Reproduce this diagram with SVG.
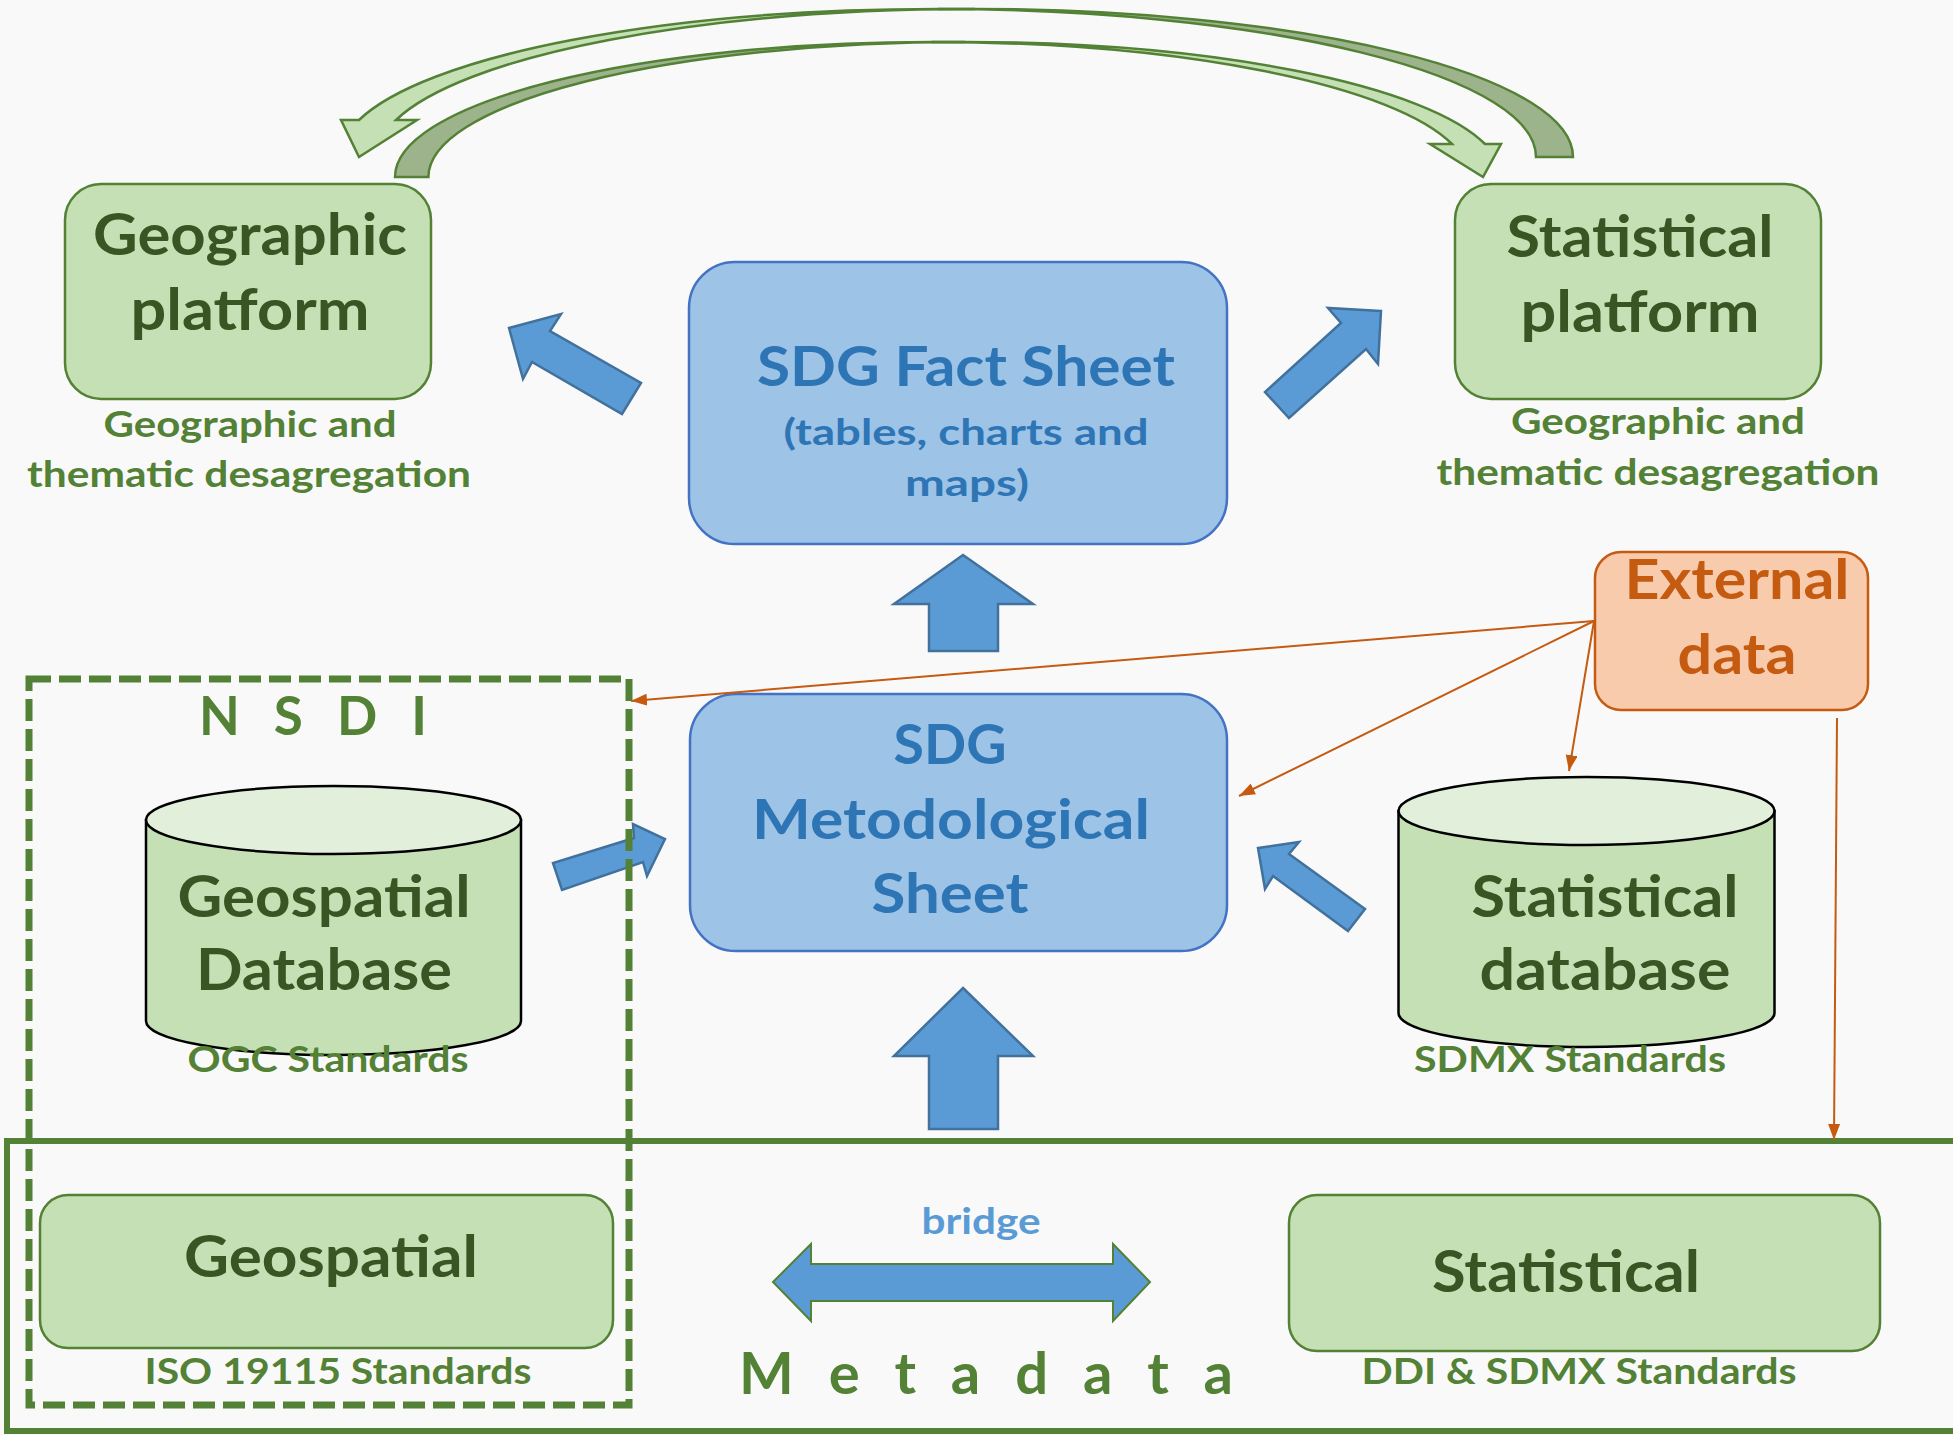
<svg xmlns="http://www.w3.org/2000/svg" width="1953" height="1435" viewBox="0 0 1953 1435">
<defs>
<style>
text{font-family:Lato,"Open Sans","Liberation Sans",sans-serif;font-weight:700;text-anchor:middle}
.t{fill:#375623;font-size:57px}
.s{fill:#538135;font-size:37px}
.b{fill:#2e75b6;font-size:56px}
.bs{fill:#2e75b6;font-size:37px}
.gbox{fill:#c5e0b4;stroke:#538135;stroke-width:2.5}
.bbox{fill:#9dc3e6;stroke:#4472c4;stroke-width:2.5}
.barrow{fill:#5b9bd5;stroke:#41719c;stroke-width:2.5;stroke-linejoin:miter}
.cyl{fill:#c5e0b4;stroke:#000;stroke-width:2.5}
.cyltop{fill:#e2efda;stroke:#000;stroke-width:2.5}
.lt{fill:#c5e0b4;stroke:#538135;stroke-width:2.5;stroke-linejoin:miter}
.dk{fill:#9db38b;stroke:#538135;stroke-width:2.5;stroke-linejoin:miter}
.or{stroke:#c55a11;stroke-width:2;fill:none;marker-end:url(#ah)}
</style>
<marker id="ah" markerUnits="userSpaceOnUse" markerWidth="16" markerHeight="12" refX="16" refY="6" orient="auto">
<path d="M0,0 L16,6 L0,12 z" fill="#c55a11"/>
</marker>
</defs>
<rect width="1953" height="1435" fill="#f9f9f9"/>

<g id="metadata-frame">
<rect x="7" y="1141" width="1960" height="290" fill="none" stroke="#538135" stroke-width="6"/>
<text x="986" y="1394" textLength="494" lengthAdjust="spacing" style="fill:#538135;font-size:58px">M e t a d a t a</text>
</g>

<g id="curved-arrows">
<path class="dk" d="M1573,157 A598,148 0 0 0 975,9 L938,9 A598,148 0 0 1 1536,157 Z"/>
<path class="lt" d="M359,157 L341,120 L359,120 A598,148 0 0 1 938,9 L975,9 A598,148 0 0 0 396,120 L417,120 Z"/>
<path class="dk" d="M395,177 A536.6,135 0 0 1 931.6,42 L965,42 A536.6,135 0 0 0 428.4,177 Z"/>
<path class="lt" d="M1483,177 L1430,144 L1452,144 A536.6,135 0 0 0 931.6,42 L965,42 A536.6,135 0 0 1 1485,144 L1501,144 Z"/>
</g>

<g id="geographic-platform">
<rect class="gbox" x="65" y="184" width="366" height="215" rx="36"/>
<text class="t" x="250" y="255" textLength="314" lengthAdjust="spacingAndGlyphs">Geographic</text>
<text class="t" x="250" y="330" textLength="239" lengthAdjust="spacingAndGlyphs">platform</text>
<text class="s" x="250" y="437" textLength="293" lengthAdjust="spacingAndGlyphs">Geographic and</text>
<text class="s" x="249" y="487" textLength="444" lengthAdjust="spacingAndGlyphs">thematic desagregation</text>
</g>

<g id="statistical-platform">
<rect class="gbox" x="1455" y="184" width="366" height="215" rx="36"/>
<text class="t" x="1640" y="257" textLength="267" lengthAdjust="spacingAndGlyphs">Statistical</text>
<text class="t" x="1640" y="332" textLength="239" lengthAdjust="spacingAndGlyphs">platform</text>
<text class="s" x="1658" y="434" textLength="294" lengthAdjust="spacingAndGlyphs">Geographic and</text>
<text class="s" x="1658" y="485" textLength="443" lengthAdjust="spacingAndGlyphs">thematic desagregation</text>
</g>

<g id="sdg-fact-sheet">
<rect class="bbox" x="689" y="262" width="538" height="282" rx="46"/>
<text class="b" x="966" y="386" textLength="418" lengthAdjust="spacingAndGlyphs">SDG Fact Sheet</text>
<text class="bs" x="966" y="445" textLength="365" lengthAdjust="spacingAndGlyphs">(tables, charts and</text>
<text class="bs" x="967" y="496" textLength="124" lengthAdjust="spacingAndGlyphs">maps)</text>
</g>

<g id="external-data">
<rect x="1595" y="552" width="273" height="158" rx="26" fill="#f8cbad" stroke="#c55a11" stroke-width="2.5"/>
<text x="1737" y="599" textLength="225" lengthAdjust="spacingAndGlyphs" style="fill:#c55a11;font-size:56px">External</text>
<text x="1737" y="674" textLength="119" lengthAdjust="spacingAndGlyphs" style="fill:#c55a11;font-size:56px">data</text>
</g>

<g id="sdg-metodological-sheet">
<rect class="bbox" x="690" y="694" width="537" height="257" rx="46"/>
<text class="b" x="950" y="764" textLength="113" lengthAdjust="spacingAndGlyphs">SDG</text>
<text class="b" x="951" y="839" textLength="398" lengthAdjust="spacingAndGlyphs">Metodological</text>
<text class="b" x="950" y="913" textLength="157" lengthAdjust="spacingAndGlyphs">Sheet</text>
</g>

<g id="geospatial-database">
<path class="cyl" d="M146,820 L146,1021 A187.5,34 0 0 0 521,1021 L521,820 Z"/>
<ellipse class="cyltop" cx="333.5" cy="820" rx="187.5" ry="34"/>
<text class="t" x="324" y="917" textLength="293" lengthAdjust="spacingAndGlyphs">Geospatial</text>
<text class="t" x="324" y="990" textLength="256" lengthAdjust="spacingAndGlyphs">Database</text>
<text class="s" x="328" y="1072" textLength="281" lengthAdjust="spacingAndGlyphs">OGC Standards</text>
</g>

<g id="statistical-database">
<path class="cyl" d="M1398.5,811 L1398.5,1013 A188,34 0 0 0 1774.5,1013 L1774.5,811 Z"/>
<ellipse class="cyltop" cx="1586.5" cy="811" rx="188" ry="34"/>
<text class="t" x="1605" y="917" textLength="267" lengthAdjust="spacingAndGlyphs">Statistical</text>
<text class="t" x="1605" y="990" textLength="251" lengthAdjust="spacingAndGlyphs">database</text>
<text class="s" x="1570" y="1072" textLength="312" lengthAdjust="spacingAndGlyphs">SDMX Standards</text>
</g>

<g id="geospatial-metadata">
<rect class="gbox" x="40" y="1195" width="573" height="153" rx="28"/>
<text class="t" x="331" y="1277" textLength="294" lengthAdjust="spacingAndGlyphs">Geospatial</text>
<text class="s" x="338" y="1384" textLength="387" lengthAdjust="spacingAndGlyphs">ISO 19115 Standards</text>
</g>

<g id="statistical-metadata">
<rect class="gbox" x="1289" y="1195" width="591" height="156" rx="28"/>
<text class="t" x="1566" y="1292" textLength="268" lengthAdjust="spacingAndGlyphs">Statistical</text>
<text class="s" x="1579" y="1384" textLength="435" lengthAdjust="spacingAndGlyphs">DDI &amp; SDMX Standards</text>
</g>

<g id="connectors">
<polygon class="barrow" points="963,555 1033,604 998,604 998,651 929,651 929,604 894,604"/>
<polygon class="barrow" points="963,988 1033,1056 998,1056 998,1129 929,1129 929,1056 894,1056"/>
<polygon class="barrow" points="509,328 561,314 550,331 641,383 622,414 532,362 523,379"/>
<polygon class="barrow" points="1381,311 1328,308 1341,323 1265,392 1289,418 1366,349 1378,364"/>
<polygon class="barrow" points="665,839 647,876 643,862 562,890 553,863 634,838 633,824"/>
<polygon class="barrow" points="1258,848 1299,842 1289,854 1365,909 1348,931 1273,876 1265,889"/>
<polygon points="773,1282 811,1244 811,1264 1113,1264 1113,1244 1150,1282 1113,1321 1113,1301 811,1301 811,1321" fill="#5b9bd5" stroke="#538135" stroke-width="2"/>
<text x="981" y="1234" textLength="119" lengthAdjust="spacingAndGlyphs" style="fill:#5b9bd5;font-size:37px">bridge</text>
<line class="or" x1="1594" y1="621" x2="631" y2="701"/>
<line class="or" x1="1594" y1="621" x2="1239" y2="796"/>
<line class="or" x1="1594" y1="621" x2="1569" y2="771"/>
<line class="or" x1="1837" y1="718" x2="1834" y2="1140"/>
</g>

<g id="nsdi">
<rect x="29" y="679" width="600" height="726" fill="none" stroke="#538135" stroke-width="7" stroke-dasharray="22 8"/>
<text x="313" y="735" textLength="228" lengthAdjust="spacing" style="fill:#538135;font-size:53px">N S D I</text>
</g>
</svg>
